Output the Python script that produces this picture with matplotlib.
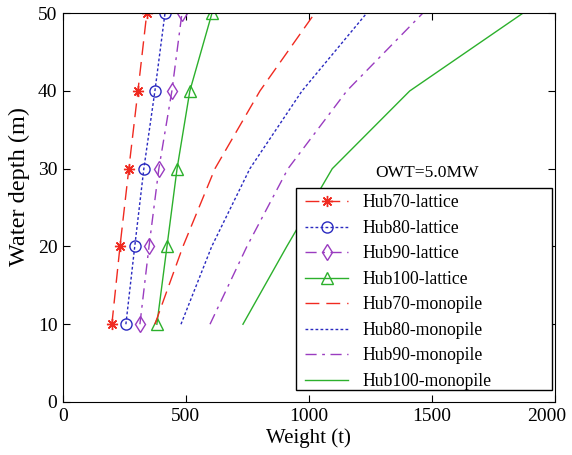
import matplotlib
matplotlib.use('Agg')
import matplotlib.pyplot as plt
import matplotlib.patches as mpatches
import matplotlib.transforms as mtransforms

plt.rcParams['font.family'] = ['Liberation Serif', 'DejaVu Serif']

# ── Data ───────────────────────────────────────────────────────────────────
depth = [10, 20, 30, 40, 50]

hub70_lattice  = [199, 232, 268, 305, 341]
hub80_lattice  = [256, 292, 329, 374, 415]
hub90_lattice  = [313, 350, 390, 443, 484]
hub100_lattice = [382, 423, 464, 516, 606]

hub70_monopile  = [374, 488, 618, 801, 1024]
hub80_monopile  = [480, 605, 760, 972, 1235]
hub90_monopile  = [598, 748, 915, 1154, 1463]
hub100_monopile = [732, 910, 1095, 1410, 1870]

RED    = '#f02a20'
BLUE   = '#2a2ac0'
PURPLE = '#9a3cc0'
GREEN  = '#2cb02c'

DASH    = (0, (10, 5))
DOT     = (0, (2, 1.6))
DASHDOT = (0, (8, 4, 2, 4))
ASTER   = (8, 2, 0)   # MATLAB-like asterisk

series = [
    ('Hub70-lattice',   hub70_lattice,   RED,    DASH,    ASTER),
    ('Hub80-lattice',   hub80_lattice,   BLUE,   DOT,     'o'),
    ('Hub90-lattice',   hub90_lattice,   PURPLE, DASHDOT, 'd'),
    ('Hub100-lattice',  hub100_lattice,  GREEN,  '-',     '^'),
    ('Hub70-monopile',  hub70_monopile,  RED,    DASH,    None),
    ('Hub80-monopile',  hub80_monopile,  BLUE,   DOT,     None),
    ('Hub90-monopile',  hub90_monopile,  PURPLE, DASHDOT, None),
    ('Hub100-monopile', hub100_monopile, GREEN,  '-',     None),
]

fig = plt.figure(figsize=(5.72, 4.55), dpi=100)
ax = fig.add_axes([0.110, 0.1165, 0.860, 0.8545])

for label, vals, color, ls, marker in series:
    ax.plot(vals, depth, color=color, linestyle=ls, linewidth=1.0,
            marker=marker, markersize=8,
            markerfacecolor='none', markeredgecolor=color,
            markeredgewidth=1.0, label=label)

ax.set_xlim(0, 2000)
ax.set_ylim(0, 50)
ax.set_xticks([0, 500, 1000, 1500, 2000])
ax.set_yticks([0, 10, 20, 30, 40, 50])
ax.tick_params(direction='in', top=True, right=True, labelsize=14,
               length=5, pad=4)

# last x tick label sits slightly left so it is not clipped at the edge
shift = mtransforms.ScaledTranslation(-6 / 72, 0, fig.dpi_scale_trans)
last = ax.get_xticklabels()[-1]
last.set_transform(last.get_transform() + shift)

ax.set_xlabel('Weight (t)', fontsize=15, labelpad=3)
ax.set_ylabel('Water depth (m)', fontsize=17.5)
ax.yaxis.set_label_coords(-0.066, 0.553)

ax.text(1480, 29.4, 'OWT=5.0MW', ha='center', va='center', fontsize=12.6)

# legend box is wider than its content (MATLAB style), so draw the frame apart
frame = mpatches.Rectangle((0.4736, 0.0308), 0.994 - 0.4736, 0.550 - 0.0308,
                           transform=ax.transAxes, facecolor='white',
                           edgecolor='black', linewidth=1.0, zorder=9)
ax.add_patch(frame)
leg = ax.legend(loc='upper left', bbox_to_anchor=(0.4776, 0.552),
                fontsize=12.7, frameon=False,
                handlelength=2.45, handletextpad=0.8,
                borderaxespad=0.0, labelspacing=0.48, borderpad=0.4)
leg.set_zorder(10)

fig.savefig('out.png', dpi=100)
